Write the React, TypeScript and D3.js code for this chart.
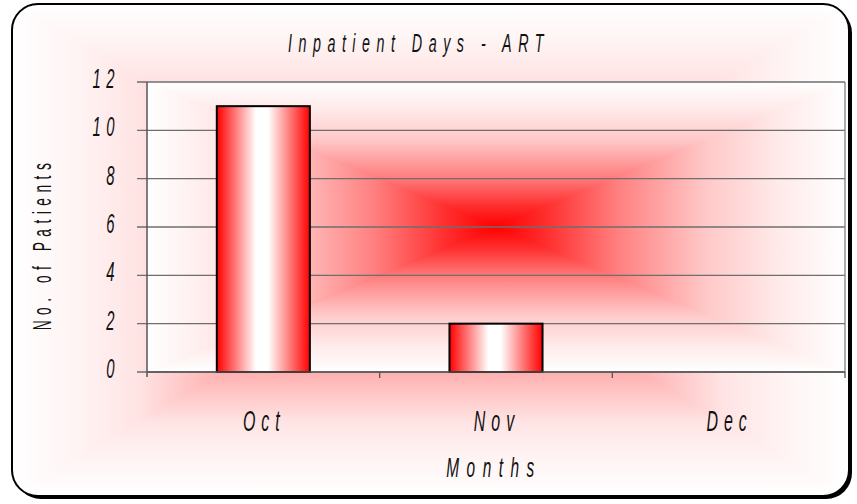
import * as d3 from "d3";
import { useEffect, useRef } from "react";

const months = ["Oct", "Nov", "Dec"];
const patients = [11, 2, 0];
const yTicks = [0, 2, 4, 6, 8, 10, 12];
const title = "Inpatient Days - ART";
const xTitle = "Months";
const yTitle = "No. of Patients";

const FONT = "'Liberation Sans', Arial, sans-serif";
const SX = 0.55; // horizontal squeeze to mimic the tall narrow font

type Sel = d3.Selection<SVGSVGElement, unknown, null, undefined>;

// rectangular "from center" gradient built out of four triangles
function rectGradient(
  parent: d3.Selection<any, unknown, null, undefined>,
  defs: d3.Selection<SVGDefsElement, unknown, null, undefined>,
  id: string,
  x0: number,
  y0: number,
  x1: number,
  y1: number,
  stops: [number, string][],
) {
  const cx = (x0 + x1) / 2;
  const cy = (y0 + y1) / 2;
  const sides = [
    { k: "t", pts: [[x0, y0], [x1, y0], [cx, cy]], g: [cx, cy, cx, y0] },
    { k: "b", pts: [[x0, y1], [x1, y1], [cx, cy]], g: [cx, cy, cx, y1] },
    { k: "l", pts: [[x0, y0], [x0, y1], [cx, cy]], g: [cx, cy, x0, cy] },
    { k: "r", pts: [[x1, y0], [x1, y1], [cx, cy]], g: [cx, cy, x1, cy] },
  ];
  const g = parent.append("g");
  sides.forEach((s) => {
    const lg = defs
      .append("linearGradient")
      .attr("id", `${id}-${s.k}`)
      .attr("gradientUnits", "userSpaceOnUse")
      .attr("x1", s.g[0])
      .attr("y1", s.g[1])
      .attr("x2", s.g[2])
      .attr("y2", s.g[3]);
    stops.forEach(([o, c]) => lg.append("stop").attr("offset", o).attr("stop-color", c));
    g.append("path")
      .attr("d", `M${s.pts.map((p) => p.join(",")).join("L")}Z`)
      .attr("fill", `url(#${id}-${s.k})`)
      .attr("stroke", `url(#${id}-${s.k})`)
      .attr("stroke-width", 0.6);
  });
  return g;
}

function label(
  svg: Sel,
  txt: string,
  x: number,
  y: number,
  opts: { size: number; anchor?: string; italic?: boolean; spacing?: number; rotate?: number },
) {
  svg
    .append("g")
    .attr("transform", `translate(${x},${y}) rotate(${opts.rotate ?? 0}) scale(${SX},1)`)
    .append("text")
    .attr("text-anchor", opts.anchor ?? "middle")
    .attr("font-family", FONT)
    .attr("font-style", opts.italic === false ? "normal" : "italic")
    .attr("font-size", opts.size)
    .attr("letter-spacing", (opts.spacing ?? 6) / SX)
    .attr("fill", "#111")
    .text(txt);
}

export default function App() {
  const svgRef = useRef<SVGSVGElement>(null);

  useEffect(() => {
    if (!svgRef.current) return;
    const svg = d3.select(svgRef.current);
    svg.selectAll("*").remove();
    const defs = svg.append("defs");

    // outer frame
    const fx = 12, fy = 4, fw = 837, fh = 492, r = 26;
    defs.append("clipPath").attr("id", "frame-clip")
      .append("rect").attr("x", fx).attr("y", fy).attr("width", fw).attr("height", fh).attr("rx", r);

    svg.append("rect")
      .attr("x", fx + 3).attr("y", fy + 3).attr("width", fw).attr("height", fh).attr("rx", r)
      .attr("fill", "#000");
    svg.append("rect")
      .attr("x", fx).attr("y", fy).attr("width", fw).attr("height", fh).attr("rx", r)
      .attr("fill", "#fff");

    const bg = rectGradient(svg, defs, "chartbg", fx, fy, fx + fw, fy + fh, [
      [0, "#ff3030"],
      [0.3, "#ff7070"],
      [0.5, "#ffb0b0"],
      [0.7, "#ffe4e4"],
      [0.85, "#fff4f4"],
      [1, "#ffffff"],
    ]);
    bg.attr("clip-path", "url(#frame-clip)");

    svg.append("rect")
      .attr("x", fx).attr("y", fy).attr("width", fw).attr("height", fh).attr("rx", r)
      .attr("fill", "none").attr("stroke", "#000").attr("stroke-width", 2);

    // plot area
    const left = 147, right = 845, top = 82, bottom = 372;
    rectGradient(svg, defs, "plotbg", left, top, right, bottom, [
      [0, "#ff0000"],
      [0.15, "#ff3030"],
      [0.35, "#ff8080"],
      [0.6, "#ffc8c8"],
      [0.8, "#ffe8e8"],
      [1, "#ffffff"],
    ]);

    const x = d3.scaleBand().domain(months).range([left, right]).paddingInner(0.6).paddingOuter(0.3);
    const xb = d3.scaleBand().domain(months).range([left, right]);
    const y = d3.scaleLinear().domain([0, 12]).range([bottom, top]);

    // gridlines
    svg.append("g")
      .selectAll("line")
      .data(yTicks)
      .join("line")
      .attr("x1", left - 10)
      .attr("x2", right)
      .attr("y1", (d) => y(d))
      .attr("y2", (d) => y(d))
      .attr("stroke", "#6e6e6e")
      .attr("stroke-width", 1.3);

    // right border of plot area
    svg.append("line")
      .attr("x1", right).attr("x2", right).attr("y1", top).attr("y2", bottom)
      .attr("stroke", "#808080").attr("stroke-width", 1.3);

    // bars
    const barGrad = defs.append("linearGradient").attr("id", "bar-grad").attr("x1", "0%").attr("x2", "100%");
    [
      [0, "#ff0000"],
      [0.42, "#ffffff"],
      [0.55, "#ffffff"],
      [1, "#ff0000"],
    ].forEach(([o, c]) => barGrad.append("stop").attr("offset", o).attr("stop-color", c as string));

    svg.append("g")
      .selectAll("rect")
      .data(months.map((m, i) => ({ m, v: patients[i] })).filter((d) => d.v > 0))
      .join("rect")
      .attr("x", (d) => x(d.m)!)
      .attr("width", x.bandwidth())
      .attr("y", (d) => y(d.v))
      .attr("height", (d) => bottom - y(d.v))
      .attr("fill", "url(#bar-grad)")
      .attr("stroke", "#000")
      .attr("stroke-width", 2);

    // axes lines
    svg.append("line")
      .attr("x1", left).attr("x2", left).attr("y1", top).attr("y2", bottom + 5)
      .attr("stroke", "#555").attr("stroke-width", 1.5);
    svg.append("line")
      .attr("x1", left).attr("x2", right).attr("y1", bottom).attr("y2", bottom)
      .attr("stroke", "#555").attr("stroke-width", 1.5);
    svg.append("g")
      .selectAll("line")
      .data(months.slice(1).map((m) => xb(m)!).concat([right]))
      .join("line")
      .attr("x1", (d) => d).attr("x2", (d) => d)
      .attr("y1", bottom).attr("y2", bottom + 6)
      .attr("stroke", "#555").attr("stroke-width", 1.3);

    // y tick labels
    yTicks.forEach((t) => label(svg, String(t), 120, y(t) + 6, { size: 27, anchor: "end", spacing: 5.5 }));

    // x tick labels
    months.forEach((m) => label(svg, m, xb(m)! + xb.bandwidth() / 2 + 1, 431, { size: 29, spacing: 6 }));

    // titles
    label(svg, title, 419, 52, { size: 26, spacing: 6.5 });
    label(svg, xTitle, 494, 477, { size: 28, spacing: 7.5 });
    label(svg, yTitle, 51, 244, { size: 25, spacing: 5.5, rotate: -90, italic: false });
  }, []);

  return (
    <div style={{ position: "absolute", left: 0, top: 0 }}>
      <svg ref={svgRef} width={857} height={504} style={{ display: "block" }} />
    </div>
  );
}
